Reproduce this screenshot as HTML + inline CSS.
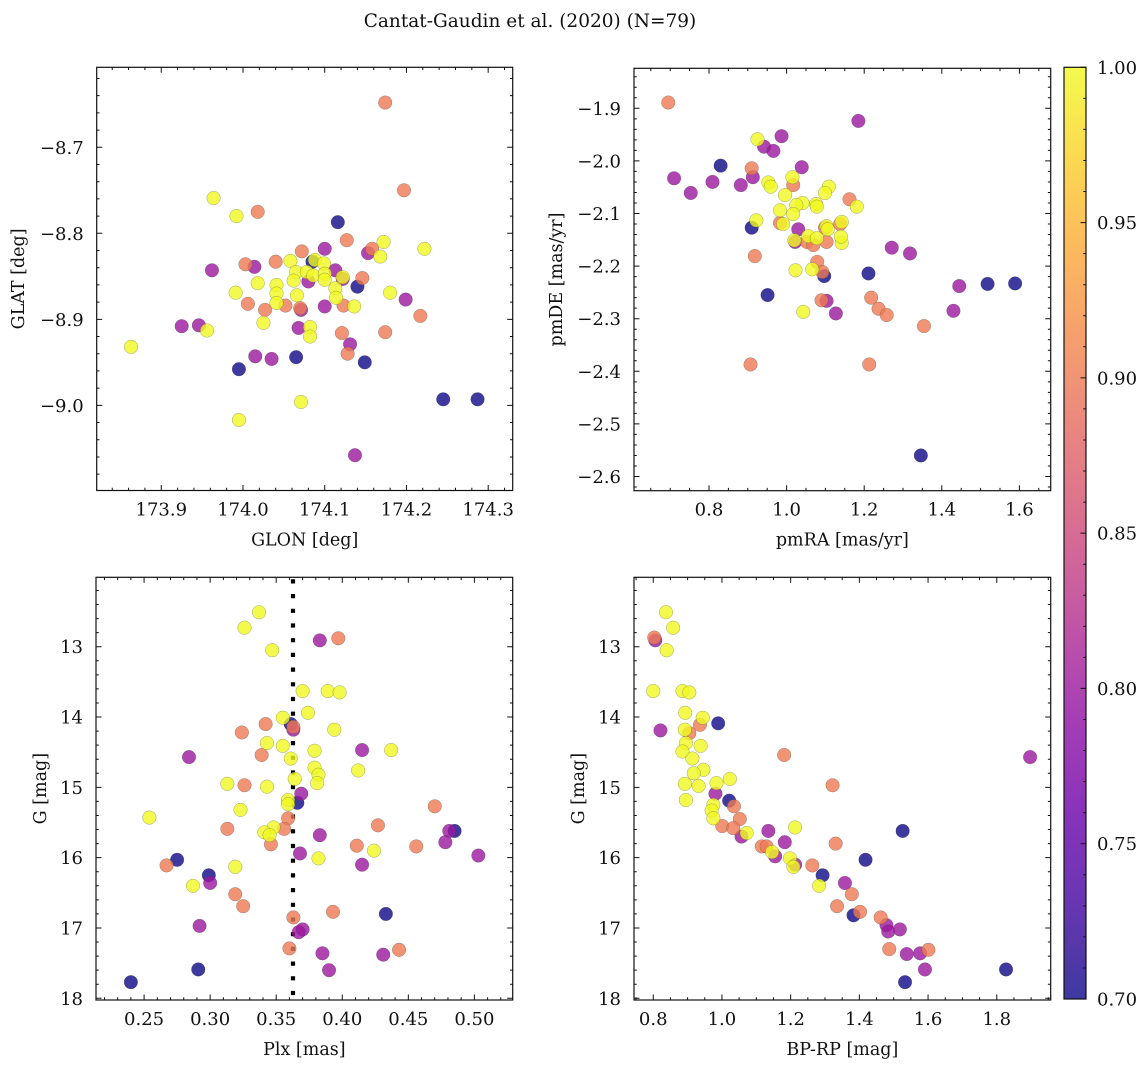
<!DOCTYPE html>
<html><head><meta charset="utf-8"><style>
html,body{margin:0;padding:0;background:#fff;}
svg{display:block;font-family:"DejaVu Serif","Liberation Serif",serif;}
</style></head><body>
<svg id="fig" width="1148" height="1067" viewBox="0 0 1148 1067" xmlns="http://www.w3.org/2000/svg">
<text x="530" y="27" text-anchor="middle" font-size="18.5" fill="#111">Cantat-Gaudin et al. (2020) (N=79)</text>
</svg>
<script>
// ---- Panel 1: sky positions ----
const glon=[174.174,174.197,173.964,173.992,174.018,174.116,174.127,174.172,174.222,174.100,174.072,174.158,174.153,174.168,173.962,174.003,174.014,174.040,174.058,174.085,174.088,174.099,174.113,174.065,174.078,174.086,174.100,174.122,174.122,174.146,174.018,174.062,174.080,174.100,174.113,174.140,174.041,174.041,173.991,174.180,174.066,174.114,174.199,174.006,174.041,174.052,174.027,174.070,174.071,174.100,174.123,174.136,174.217,174.025,173.925,173.946,173.956,174.068,174.082,174.082,174.121,174.174,174.131,174.128,173.863,174.015,174.035,174.065,174.149,173.995,174.071,174.245,174.287,173.995,174.137];
const glat=[-8.648,-8.750,-8.759,-8.780,-8.775,-8.787,-8.808,-8.810,-8.818,-8.818,-8.821,-8.818,-8.823,-8.827,-8.843,-8.836,-8.839,-8.833,-8.832,-8.833,-8.831,-8.835,-8.843,-8.845,-8.845,-8.849,-8.847,-8.851,-8.853,-8.852,-8.858,-8.855,-8.856,-8.854,-8.864,-8.862,-8.860,-8.870,-8.869,-8.869,-8.872,-8.875,-8.877,-8.882,-8.881,-8.884,-8.889,-8.887,-8.889,-8.885,-8.884,-8.885,-8.896,-8.904,-8.908,-8.907,-8.913,-8.910,-8.909,-8.920,-8.916,-8.915,-8.929,-8.940,-8.932,-8.943,-8.946,-8.944,-8.950,-8.958,-8.996,-8.993,-8.993,-9.017,-9.058];
const probSky=[0.9,0.9,1,1,0.9,0.7,0.9,1,1,0.8,0.9,0.9,0.8,1,0.8,0.9,0.8,0.9,1,0.7,1,1,0.8,1,1,1,1,1,0.8,0.9,1,1,0.8,1,1,0.7,1,1,1,1,1,1,0.8,0.9,1,0.9,0.9,0.9,0.8,0.8,0.9,1,0.9,1,0.8,0.8,1,0.8,1,1,0.9,0.9,0.8,0.9,1,0.8,0.8,0.7,0.7,0.7,1,0.7,0.7,1,0.8];
// ---- Panel 2: proper motions ----
const pmra=[0.695,1.185,0.987,0.925,0.942,0.966,0.830,0.910,1.039,0.913,0.710,0.809,0.882,0.753,0.953,0.959,1.015,1.017,1.109,1.099,0.996,1.162,1.181,1.041,1.025,1.076,1.078,0.983,1.017,0.922,0.910,0.983,0.991,1.030,1.099,1.103,1.142,1.138,1.106,1.103,1.052,1.022,1.020,1.056,1.069,1.078,1.142,1.140,0.918,1.271,1.318,1.079,1.023,1.066,1.092,1.097,1.211,0.951,1.445,1.518,1.589,1.218,1.090,1.103,1.043,1.127,1.237,1.258,1.430,1.354,0.907,1.213,1.346];
const pmde=[-1.889,-1.924,-1.953,-1.959,-1.973,-1.981,-2.009,-2.014,-2.012,-2.031,-2.033,-2.040,-2.046,-2.061,-2.041,-2.049,-2.031,-2.046,-2.049,-2.061,-2.065,-2.073,-2.087,-2.080,-2.084,-2.082,-2.087,-2.094,-2.101,-2.113,-2.127,-2.118,-2.120,-2.130,-2.127,-2.124,-2.116,-2.120,-2.130,-2.154,-2.154,-2.154,-2.151,-2.143,-2.160,-2.147,-2.156,-2.144,-2.181,-2.165,-2.176,-2.192,-2.208,-2.206,-2.211,-2.219,-2.214,-2.255,-2.238,-2.234,-2.233,-2.260,-2.265,-2.266,-2.287,-2.290,-2.281,-2.293,-2.285,-2.314,-2.387,-2.387,-2.560];
const probPm=[0.9,0.8,0.8,1,0.8,0.8,0.7,0.9,0.8,0.8,0.8,0.8,0.8,0.8,1,1,1,0.9,1,1,1,0.9,1,1,1,1,1,1,1,1,0.7,0.9,1,0.8,0.9,1,1,0.9,1,0.9,0.9,0.8,1,1,0.9,1,1,1,0.9,0.8,0.8,0.9,1,1,0.9,0.7,0.7,0.7,0.8,0.7,0.7,0.9,0.9,0.8,1,0.8,0.9,0.9,0.8,0.9,0.9,0.9,0.7];
// ---- Panel 3: parallax vs G ----
const plx=[0.337,0.326,0.347,0.383,0.397,0.370,0.389,0.398,0.374,0.355,0.361,0.363,0.363,0.342,0.324,0.394,0.343,0.355,0.379,0.415,0.437,0.284,0.339,0.361,0.379,0.382,0.412,0.364,0.313,0.326,0.343,0.381,0.369,0.366,0.359,0.359,0.323,0.470,0.254,0.359,0.356,0.313,0.348,0.341,0.345,0.346,0.383,0.427,0.485,0.481,0.478,0.411,0.456,0.424,0.368,0.382,0.503,0.275,0.267,0.319,0.415,0.299,0.300,0.287,0.319,0.325,0.393,0.433,0.363,0.370,0.367,0.292,0.360,0.385,0.431,0.443,0.291,0.390,0.240];
const gPlx=[12.51,12.73,13.05,12.91,12.88,13.63,13.63,13.65,13.94,14.01,14.10,14.14,14.18,14.10,14.22,14.18,14.37,14.41,14.48,14.47,14.47,14.57,14.54,14.59,14.72,14.82,14.76,14.88,14.95,14.97,14.99,14.94,15.09,15.22,15.18,15.24,15.32,15.27,15.43,15.44,15.59,15.59,15.57,15.64,15.68,15.81,15.68,15.54,15.62,15.62,15.78,15.83,15.84,15.90,15.94,16.01,15.97,16.03,16.11,16.13,16.10,16.25,16.36,16.40,16.52,16.69,16.77,16.80,16.85,17.02,17.06,16.97,17.29,17.36,17.38,17.31,17.59,17.60,17.77];
const probPlx=[1,1,1,0.8,0.9,1,1,1,1,1,0.7,0.9,0.8,0.9,0.9,1,1,1,1,0.8,1,0.8,0.9,1,1,1,1,1,1,0.9,1,1,0.8,0.7,1,1,1,0.9,1,0.9,0.9,0.9,1,1,1,0.9,0.8,0.9,0.7,0.8,0.8,0.9,0.9,1,0.8,1,0.8,0.7,0.9,1,0.8,0.7,0.8,1,0.9,0.9,0.9,0.7,0.9,0.8,0.8,0.8,0.9,0.8,0.8,0.9,0.7,0.8,0.7];
const plxRef=[0.3627];
// ---- Panel 4: CMD ----
const bprp=[0.837,0.858,0.839,0.803,0.806,0.800,0.885,0.905,0.893,0.944,0.936,0.989,0.821,0.905,0.892,0.895,0.938,0.885,0.914,0.946,0.918,1.181,1.897,0.892,0.932,0.984,1.023,1.322,0.981,0.895,0.975,1.021,1.035,0.970,0.975,1.052,1.001,1.033,1.213,1.057,1.072,1.135,1.526,1.331,1.183,1.116,1.130,1.146,1.155,1.198,1.213,1.208,1.418,1.263,1.293,1.358,1.283,1.378,1.335,1.383,1.402,1.462,1.479,1.484,1.518,1.487,1.538,1.577,1.601,1.591,1.533,1.827];
const gCmd=[12.51,12.73,13.05,12.87,12.91,13.63,13.63,13.65,13.94,14.01,14.11,14.09,14.19,14.23,14.18,14.37,14.41,14.49,14.59,14.75,14.80,14.54,14.57,14.95,14.98,14.94,14.88,14.97,15.09,15.18,15.25,15.19,15.27,15.33,15.44,15.45,15.55,15.58,15.57,15.70,15.65,15.62,15.62,15.80,15.78,15.84,15.84,15.92,15.98,16.01,16.10,16.13,16.03,16.11,16.25,16.36,16.40,16.52,16.69,16.82,16.77,16.85,16.96,17.05,17.02,17.30,17.37,17.36,17.31,17.59,17.77,17.59];
const probCmd=[1,1,1,0.9,0.8,1,1,1,1,1,0.9,0.7,0.8,0.9,1,1,1,1,1,1,1,0.9,0.8,1,1,1,1,0.9,0.8,1,1,0.7,0.9,1,1,0.9,0.9,0.9,1,0.8,1,0.8,0.7,0.9,0.8,0.9,0.9,1,0.8,1,0.8,1,0.7,0.9,0.7,0.8,1,0.9,0.9,0.7,0.9,0.9,0.8,0.8,0.8,0.9,0.8,0.8,0.9,0.8,0.7,0.7];
// ---- colorbar ----
const cbTicks=[0.70,0.75,0.80,0.85,0.90,0.95,1.00];

const NS="http://www.w3.org/2000/svg";
const svg=document.getElementById('fig');
const stops=["#0d0887","#41049d","#6a00a8","#8f0da4","#b12a90","#cc4778","#e16462","#f2844b","#fca636","#fcce25","#f0f921"];
function hex(h){return [parseInt(h.slice(1,3),16),parseInt(h.slice(3,5),16),parseInt(h.slice(5,7),16)];}
function plasma(t){t=Math.max(0,Math.min(1,t));const f=t*10,i=Math.min(9,Math.floor(f)),u=f-i;const a=hex(stops[i]),b=hex(stops[i+1]);return 'rgb('+a.map((v,k)=>Math.round(v+(b[k]-v)*u)).join(',')+')';}
const VMIN=0.7,VMAX=1.0;
function el(tag,attrs,parent){const e=document.createElementNS(NS,tag);for(const k in attrs)e.setAttribute(k,attrs[k]);(parent||svg).appendChild(e);return e;}
function fmt(v,d){const s=Math.abs(v).toFixed(d);return (v<0?'\u2212':'')+s;}
const TFS=18, LFS=17.5;

function panel(cfg){
  const g=el('g',{});
  
  
  const [L,T,R,B]=cfg.box;
  const sx=v=>L+(v-cfg.xd[0])/(cfg.xd[1]-cfg.xd[0])*(R-L);
  const sy=v=>cfg.yinv? T+(v-cfg.yd[0])/(cfg.yd[1]-cfg.yd[0])*(B-T) : B-(v-cfg.yd[0])/(cfg.yd[1]-cfg.yd[0])*(B-T);
  if(cfg.vline){cfg.vline.forEach(v=>{const ln=el('line',{x1:sx(v),x2:sx(v),y1:T+2,y2:B,stroke:'#000','stroke-width':4.2,'stroke-dasharray':'4.2 10.5'},g);
    
    });}
  const idx=cfg.x.map((_,i)=>i).sort((a,b)=>cfg.p[a]-cfg.p[b]);
  idx.forEach(i=>{
    const c=el('circle',{cx:sx(cfg.x[i]),cy:sy(cfg.y[i]),r:6.8,fill:plasma((cfg.p[i]-VMIN)/(VMAX-VMIN)),'fill-opacity':0.8,stroke:'rgba(60,60,60,0.45)','stroke-width':0.5},g);
    
    
  });
  const fr=el('rect',{x:L,y:T,width:R-L,height:B-T,fill:'none',stroke:'#111','stroke-width':1.2},g);
  
  
  const tk=[];
  const eps=1e-9;
  for(let v=Math.ceil(cfg.xd[0]/cfg.xminor-eps)*cfg.xminor;v<=cfg.xd[1]+eps;v+=cfg.xminor){const x=sx(v);tk.push(`M${x},${B}v-2.8M${x},${T}v2.8`);}
  for(let v=Math.ceil(Math.min(...cfg.yd)/cfg.yminor-eps)*cfg.yminor;v<=Math.max(...cfg.yd)+eps;v+=cfg.yminor){const y=sy(v);tk.push(`M${L},${y}h2.8M${R},${y}h-2.8`);}
  cfg.xt.forEach(v=>{const x=sx(v);tk.push(`M${x},${B}v-5.5M${x},${T}v5.5`);
    const t=el('text',{x:x,y:B+25,'text-anchor':'middle','font-size':TFS,fill:'#111'},g);t.textContent=fmt(v,cfg.xdec);
    
    });
  cfg.yt.forEach(v=>{const y=sy(v);tk.push(`M${L},${y}h5.5M${R},${y}h-5.5`);
    const t=el('text',{x:L-13,y:y+6.5,'text-anchor':'end','font-size':TFS,fill:'#111'},g);t.textContent=fmt(v,cfg.ydec);
    
    });
  const tp=el('path',{d:tk.join(''),stroke:'#111','stroke-width':1},g);
  tp.setAttribute('fill','none');
  
  
  const xl=el('text',{x:(L+R)/2,y:B+55,'text-anchor':'middle','font-size':LFS,fill:'#111'},g);xl.textContent=cfg.xlab;
  
  
  const yx=cfg.ylx,yy=(T+B)/2;
  const yl=el('text',{x:yx,y:yy,'text-anchor':'middle','font-size':LFS,fill:'#111',transform:`rotate(-90 ${yx} ${yy})`},g);yl.textContent=cfg.ylab;
  
  
}

panel({name:'sky-position-panel',box:[96.7,67.3,512.7,490.5],xd:[173.821,174.330],yd:[-9.099,-8.607],x:glon,y:glat,p:probSky,
  xt:[173.9,174.0,174.1,174.2,174.3],yt:[-8.7,-8.8,-8.9,-9.0],xdec:1,ydec:1,xminor:0.02,yminor:0.02,xlab:'GLON [deg]',ylab:'GLAT [deg]',ylx:24});
panel({name:'proper-motion-panel',box:[634,68.3,1050.7,490.7],xd:[0.8-(709-634)/388,0.8+(1050.7-709)/388],yd:[-1.9-(490.7-108.3)/526,-1.9+(108.3-68.3)/526],x:pmra,y:pmde,p:probPm,
  xt:[0.8,1.0,1.2,1.4,1.6],yt:[-1.9,-2.0,-2.1,-2.2,-2.3,-2.4,-2.5,-2.6],xdec:1,ydec:1,xminor:0.05,yminor:0.02,xlab:'pmRA [mas/yr]',ylab:'pmDE [mas/yr]',ylx:562});
panel({name:'parallax-magnitude-panel',box:[96,577.3,512.7,1000],xd:[0.2136,0.529],yd:[12.013,18.024],yinv:true,x:plx,y:gPlx,p:probPlx,vline:plxRef,
  xt:[0.25,0.30,0.35,0.40,0.45,0.50],yt:[13,14,15,16,17,18],xdec:2,ydec:0,xminor:0.01,yminor:0.2,xlab:'Plx [mas]',ylab:'G [mag]',ylx:46});
panel({name:'color-magnitude-panel',box:[634,577.3,1050.7,1000],xd:[0.744,1.957],yd:[12.013,18.024],yinv:true,x:bprp,y:gCmd,p:probCmd,
  xt:[0.8,1.0,1.2,1.4,1.6,1.8],yt:[13,14,15,16,17,18],xdec:1,ydec:0,xminor:0.05,yminor:0.2,xlab:'BP-RP [mag]',ylab:'G [mag]',ylx:584});

(function(){
  const g=el('g',{});
  
  
  const defs=el('defs',{},g);
  const lg=el('linearGradient',{id:'cbg',x1:0,y1:1,x2:0,y2:0},defs);
  for(let i=0;i<=20;i++){el('stop',{offset:i/20,'stop-color':plasma(i/20),'stop-opacity':0.8},lg);}
  const L=1064,R=1086,T=67.3,B=999;
  const cy=v=>B-(v-VMIN)/(VMAX-VMIN)*(B-T);
  const r=el('rect',{x:L,y:T,width:R-L,height:B-T,fill:'url(#cbg)',stroke:'#111','stroke-width':1.2},g);
  
  
  const d=[];
  for(let v=0.70;v<=1.0001;v+=0.01){d.push(`M${R},${cy(v)}h-2.8`);}
  cbTicks.forEach(v=>{d.push(`M${R},${cy(v)}h-5.5`);
    const t=el('text',{x:R+11,y:cy(v)+6.5,'font-size':TFS,fill:'#111'},g);t.textContent=v.toFixed(2);
    
    });
  const cp=el('path',{d:d.join(''),stroke:'#111','stroke-width':1},g);
  cp.setAttribute('fill','none');
  
  
})();
</script>
</body></html>
